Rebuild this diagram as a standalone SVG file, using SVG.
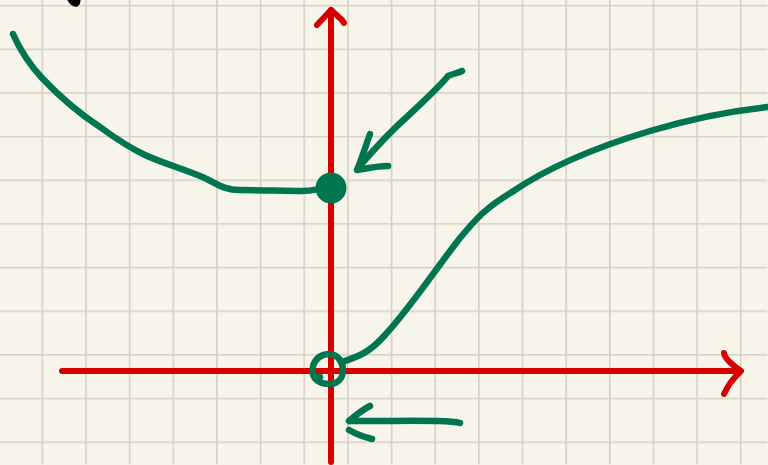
<svg xmlns="http://www.w3.org/2000/svg" width="768" height="465" viewBox="0 0 768 465">
<defs>
<style>
.grid{stroke:#d4d0c2;stroke-width:1.6;fill:none}
.red{stroke:#d40000;stroke-width:6;fill:none;stroke-linecap:round;stroke-linejoin:round}
.grn{stroke:#007550;stroke-width:6.5;fill:none;stroke-linecap:round;stroke-linejoin:round}
</style>
<pattern id="gp" x="42.3" y="5.7" width="43.65" height="43.65" patternUnits="userSpaceOnUse">
<path class="grid" d="M0.8 0V43.65M0 0.8H43.65"/>
</pattern>
</defs>
<rect width="768" height="465" fill="#f7f5ea"/>
<rect width="768" height="465" fill="url(#gp)" transform="translate(-0.8,-0.8)"/>
<g id="axes">
<path class="red" d="M331 462V10"/>
<path class="red" d="M317 25L331 10L342 20L344 23"/>
<path class="red" d="M62 371H740"/>
<path class="red" d="M724 353Q725 360 741 371Q730 381 724 394"/>
</g>
<g id="curve-left">
<path class="grn" d="M13 34C20 50 30 65 42 78C60 97 80 114 100 127C115 138 130 148 145 155C160 162 180 168 200 176C215 182 222 190 240 190C262 190 285 191 302 191C315 191 320 188 331 188"/>
<circle cx="331" cy="188" r="15.5" fill="#007550"/>
</g>
<g id="curve-right">
<path class="grn" d="M342 362C360 356 370 352 385 335C410 308 435 270 460 238C475 220 485 208 512 192C550 166 600 146 650 131C690 119 730 111 768 107"/>
<path class="grn" d="M320 377C313 378 312 371 313 366C316 357 323 354 330 354C338 355 343 362 343 370C343 379 337 384 329 384C321 384 314 380 313 374"/>
</g>
<g id="arrows">
<path class="grn" d="M462 71C458 73 452 74 448 76C440 86 425 100 410 114C392 130 375 148 358 168"/>
<path class="grn" d="M370 134C366 145 362 158 357 170C368 168 378 166 388 166"/>
<path class="grn" d="M460 423C450 420 420 421 350 421"/>
<path class="grn" d="M370 406C362 410 356 415 349 421M349 430C356 434 364 437 372 439"/>
</g>
<path d="M68 -2C70 3 74 6 77 5C80 3 79 -1 78 -3Z" fill="#000" stroke="#000" stroke-width="3" stroke-linejoin="round"/>
</svg>
